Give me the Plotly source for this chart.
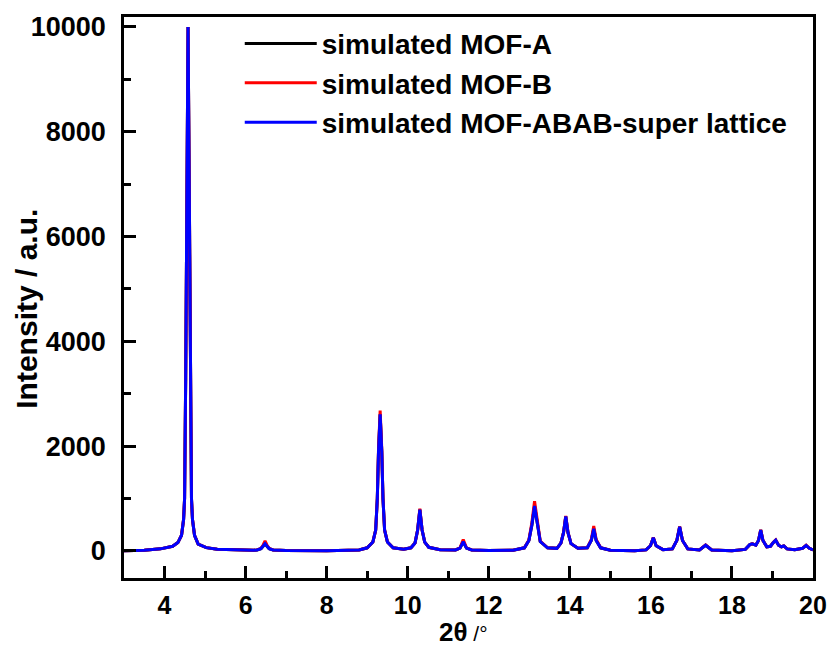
import plotly.graph_objects as go

# 2-theta positions (degrees) read along the simulated patterns
two_theta = [3.0, 3.5, 3.9, 4.2, 4.33, 4.42, 4.47, 4.495, 4.522, 4.55, 4.58, 4.61, 4.638, 4.665, 4.69, 4.74, 4.83, 5.03, 5.3, 5.8, 6.2,
             6.28, 6.38, 6.43, 6.48, 6.53, 6.58, 6.68, 7.0, 8.0,
             8.8, 9.0, 9.14, 9.21, 9.25, 9.28, 9.32, 9.36, 9.39, 9.43, 9.50, 9.64, 9.9,
             10.08, 10.18, 10.245, 10.3, 10.355, 10.42, 10.52, 10.8,
             11.18, 11.29, 11.37, 11.45, 11.58, 12.0,
             12.6, 12.88, 12.99, 13.065, 13.13, 13.195, 13.27, 13.45,
             13.68, 13.78, 13.845, 13.9, 13.955, 14.03, 14.2,
             14.43, 14.53, 14.59, 14.65, 14.76, 15.0, 15.6,
             15.88, 15.99, 16.06, 16.13, 16.3,
             16.53, 16.64, 16.71, 16.78, 16.91,
             17.2, 17.35, 17.5, 18.0,
             18.33, 18.44, 18.5, 18.59, 18.655, 18.71, 18.765, 18.86,
             18.95, 19.02, 19.08, 19.15, 19.22, 19.28, 19.36, 19.55,
             19.74, 19.83, 19.91, 20.0]

mof_abab = [5, 15, 40, 90, 160, 300, 600, 1000, 3300, 7000, 10000, 7000, 3300, 1000, 600, 300, 130, 64, 32, 15, 12,
            20, 45, 90, 140, 90, 45, 20, 8, 5,
            20, 60, 170, 400, 1000, 1900, 2610, 1900, 1000, 400, 170, 60, 35,
            60, 150, 400, 790, 400, 170, 70, 25,
            20, 55, 175, 55, 20, 8,
            15, 60, 200, 500, 860, 500, 180, 60,
            50, 150, 350, 660, 350, 140, 50,
            60, 200, 425, 200, 60, 15, 5,
            20, 100, 250, 100, 25,
            40, 200, 460, 200, 40,
            20, 110, 20, 5,
            30, 120, 135, 110, 200, 400, 200, 80,
            90, 160, 205, 110, 80, 95, 40, 25,
            50, 105, 50, 20]

mof_b = [5, 15, 40, 90, 160, 300, 600, 1000, 3300, 7000, 10000, 7000, 3300, 1000, 600, 300, 130, 64, 32, 15, 12,
         20, 50, 110, 190, 110, 50, 20, 8, 5,
         20, 60, 170, 400, 1000, 1950, 2680, 1950, 1000, 400, 170, 60, 35,
         60, 150, 400, 805, 400, 170, 70, 25,
         20, 60, 220, 60, 20, 8,
         15, 60, 210, 550, 950, 550, 190, 60,
         50, 150, 355, 670, 355, 140, 50,
         60, 220, 475, 220, 60, 15, 5,
         20, 100, 255, 100, 25,
         40, 200, 465, 200, 40,
         20, 115, 20, 5,
         30, 120, 140, 110, 200, 405, 200, 80,
         90, 160, 210, 110, 80, 95, 40, 25,
         50, 110, 50, 20]

mof_a = list(mof_abab)

series_names = ["simulated MOF-A", "simulated MOF-B", "simulated MOF-ABAB-super lattice"]
series_colors = ["#000000", "#ff0000", "#0000ff"]

x_ticks = [4, 6, 8, 10, 12, 14, 16, 18, 20]
y_ticks = [0, 2000, 4000, 6000, 8000, 10000]

FONT = "Liberation Sans, Arial, sans-serif"

fig = go.Figure()
for name, ys, col in zip(series_names, [mof_a, mof_b, mof_abab], series_colors):
    fig.add_trace(go.Scatter(x=two_theta, y=ys, mode="lines", name=name,
                             line=dict(color=col, width=3)))

fig.update_layout(
    width=839, height=649,
    margin=dict(l=124, r=21, t=17, b=71),
    paper_bgcolor="white", plot_bgcolor="white",
    font=dict(family=FONT, color="black"),
    showlegend=True,
    legend=dict(x=0.168, y=0.997, xanchor="left", yanchor="top",
                bgcolor="rgba(0,0,0,0)", borderwidth=0,
                font=dict(family=FONT, size=28, weight="bold", color="black"),
                itemwidth=72, tracegroupgap=0),
)

fig.update_xaxes(
    range=[3, 20], tickmode="array", tickvals=x_ticks, ticktext=[str(v) for v in x_ticks],
    ticks="inside", ticklen=12, tickwidth=2.5, tickcolor="black",
    minor=dict(dtick=1, tick0=0, ticks="inside", ticklen=7, tickwidth=2.5, tickcolor="black"),
    showline=True, linewidth=2.5, linecolor="black", mirror=True,
    showgrid=False, zeroline=False,
    tickfont=dict(family=FONT, size=25, weight="bold", color="black"),
    ticklabelstandoff=3,
)
fig.update_yaxes(
    range=[-516, 10190], tickmode="array", tickvals=y_ticks, ticktext=[str(v) for v in y_ticks],
    ticks="inside", ticklen=12, tickwidth=2.5, tickcolor="black",
    minor=dict(dtick=1000, tick0=0, ticks="inside", ticklen=7, tickwidth=2.5, tickcolor="black"),
    showline=True, linewidth=2.5, linecolor="black", mirror=True,
    showgrid=False, zeroline=False,
    tickfont=dict(family=FONT, size=27, weight="bold", color="black"),
    ticklabelstandoff=10,
)

fig.add_annotation(text="Intensity / a.u.", xref="paper", yref="paper",
                   x=(25 - 124) / 694, y=(578 - 309) / 561, xanchor="center", yanchor="middle",
                   textangle=-90, showarrow=False,
                   font=dict(family=FONT, size=30, weight="bold", color="black"))
fig.add_annotation(text="<b>2θ</b><span style='font-size:21px'> /°</span>", xref="paper", yref="paper",
                   x=(466 - 124) / 694, y=-(632 - 578) / 561, xanchor="center", yanchor="middle",
                   showarrow=False, borderpad=0,
                   font=dict(family=FONT, size=26, color="black"))

fig.write_html("out.html")
